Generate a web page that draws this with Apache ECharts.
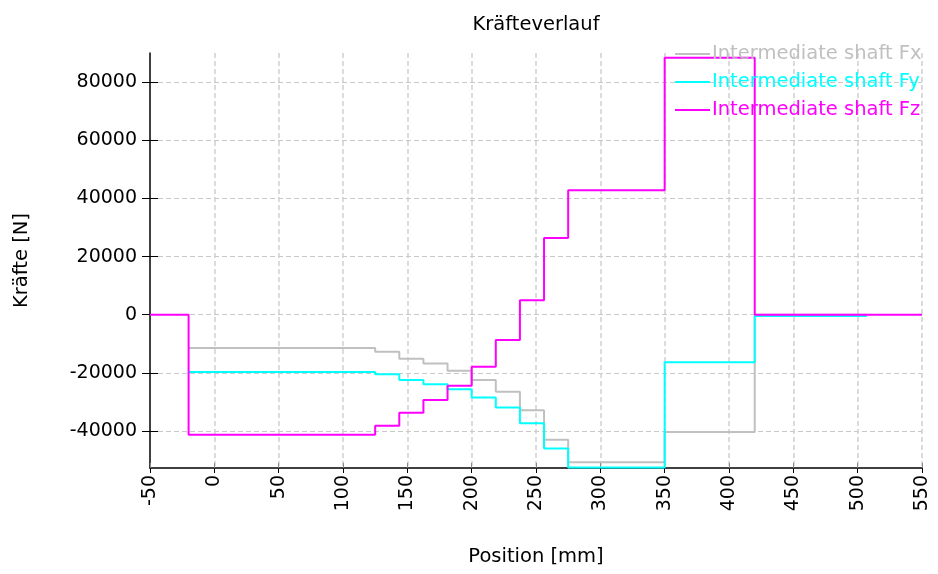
<!DOCTYPE html>
<html><head><meta charset="utf-8">
<script src="https://cdn.jsdelivr.net/npm/echarts@6/dist/echarts.min.js"></script>
<style>html,body{margin:0;padding:0;background:#fff}#c{width:938px;height:574px}</style>
</head><body><div id="c"></div>
<script>
// Breakpoints (position in mm) and force values [N]; each value holds until the next breakpoint
const posFz = [-50, -20, 125, 143.75, 162.5, 181.25, 200, 218.75, 237.5, 256.25, 275, 350, 420, 550];
const valFz = [0, -41300, -38200, -33700, -29300, -24400, -17900, -8700, 5000, 26400, 42800, 88400, 0, 0];
const posFxy = [-20, 125, 143.75, 162.5, 181.25, 200, 218.75, 237.5, 256.25, 275, 350, 420, 507];
const valFx = [-11400, -12700, -15100, -16800, -19300, -22400, -26500, -32800, -43000, -50700, -40300, 0, 0];
const valFy = [-19700, -20500, -22400, -23900, -25600, -28500, -31900, -37300, -46000, -52500, -16300, -400, -400];
const seriesNames = ['Intermediate shaft Fx', 'Intermediate shaft Fy', 'Intermediate shaft Fz'];
const colors = ['#c0c0c0', '#00ffff', '#ff00ff'];
const xTicks = {min: -50, max: 550, interval: 50};
const yRange = {min: -52700, max: 90000};
const yTickValues = [-40000, -20000, 0, 20000, 40000, 60000, 80000];

const FONT = 'DejaVu Sans';
function pairs(xs, ys) { return xs.map((x, i) => [x, ys[i]]); }

const chart = echarts.init(document.getElementById('c'), null, {renderer: 'canvas'});
const axisLine = {onZero: false, lineStyle: {color: '#000', width: 1.5}};
chart.setOption({
  animation: false,
  textStyle: {fontFamily: FONT},
  title: {text: 'Kräfteverlauf', left: 531, top: 10, textAlign: 'center',
    textStyle: {fontFamily: FONT, fontSize: 19.5, fontWeight: 'normal', color: '#000'}},
  legend: {
    orient: 'vertical', left: 670, top: 39, itemWidth: 35, itemHeight: 2, itemGap: 8,
    icon: 'rect',
    data: seriesNames.map((n, i) => ({name: n, itemStyle: {color: colors[i]}, textStyle: {color: colors[i]}})),
    textStyle: {fontFamily: FONT, fontSize: 19.5, padding: [0, 0, 0, -3]}
  },
  grid: {left: 150, right: 16, top: 53, bottom: 106},
  xAxis: [{
    type: 'value', min: xTicks.min, max: xTicks.max, interval: xTicks.interval,
    name: 'Position [mm]', nameLocation: 'middle', nameGap: 79,
    nameTextStyle: {fontFamily: FONT, fontSize: 19.5, color: '#000'},
    axisLine: axisLine,
    axisTick: {show: true, inside: false, length: 5, lineStyle: {color: '#000'}},
    axisLabel: {rotate: 90, fontFamily: FONT, fontSize: 19, color: '#000', margin: 7,
      formatter: v => String(v)},
    splitLine: {show: true, showMinLine: false, lineStyle: {color: '#d0d0d0', type: [5, 3], width: 1.5}}
  }, {
    type: 'value', min: xTicks.min, max: xTicks.max, interval: xTicks.interval, position: 'bottom',
    axisLine: {show: false, onZero: false}, axisLabel: {show: false}, splitLine: {show: false},
    axisTick: {show: true, inside: true, length: 5, lineStyle: {color: '#888'}}
  }],
  yAxis: [{
    type: 'value', min: yRange.min, max: yRange.max, splitNumber: 7,
    name: 'Kräfte [N]', nameLocation: 'middle', nameGap: 118,
    nameTextStyle: {fontFamily: FONT, fontSize: 19.5, color: '#000'},
    axisLine: axisLine,
    axisTick: {show: true, inside: false, length: 8, lineStyle: {color: '#000'}, customValues: yTickValues},
    axisLabel: {fontFamily: FONT, fontSize: 19, color: '#000', margin: 13, customValues: yTickValues,
      formatter: v => String(v)},
    splitLine: {show: true, showMinLine: true, showMaxLine: true, lineStyle: {color: '#c8c8c8', type: [5, 3], width: 1}}
  }, {
    type: 'value', min: yRange.min, max: yRange.max, splitNumber: 7, position: 'left',
    axisLine: {show: false, onZero: false}, axisLabel: {show: false}, splitLine: {show: false},
    axisTick: {show: true, inside: true, length: 8, lineStyle: {color: '#000'}, customValues: yTickValues}
  }],
  series: [
    {name: seriesNames[0], type: 'line', step: 'end', showSymbol: false, data: pairs(posFxy, valFx),
     lineStyle: {color: colors[0], width: 2}, itemStyle: {color: colors[0]}},
    {name: seriesNames[1], type: 'line', step: 'end', showSymbol: false, data: pairs(posFxy, valFy),
     lineStyle: {color: colors[1], width: 2}, itemStyle: {color: colors[1]}},
    {name: seriesNames[2], type: 'line', step: 'end', showSymbol: false, data: pairs(posFz, valFz),
     lineStyle: {color: colors[2], width: 2}, itemStyle: {color: colors[2]}}
  ]
});
</script></body></html>
